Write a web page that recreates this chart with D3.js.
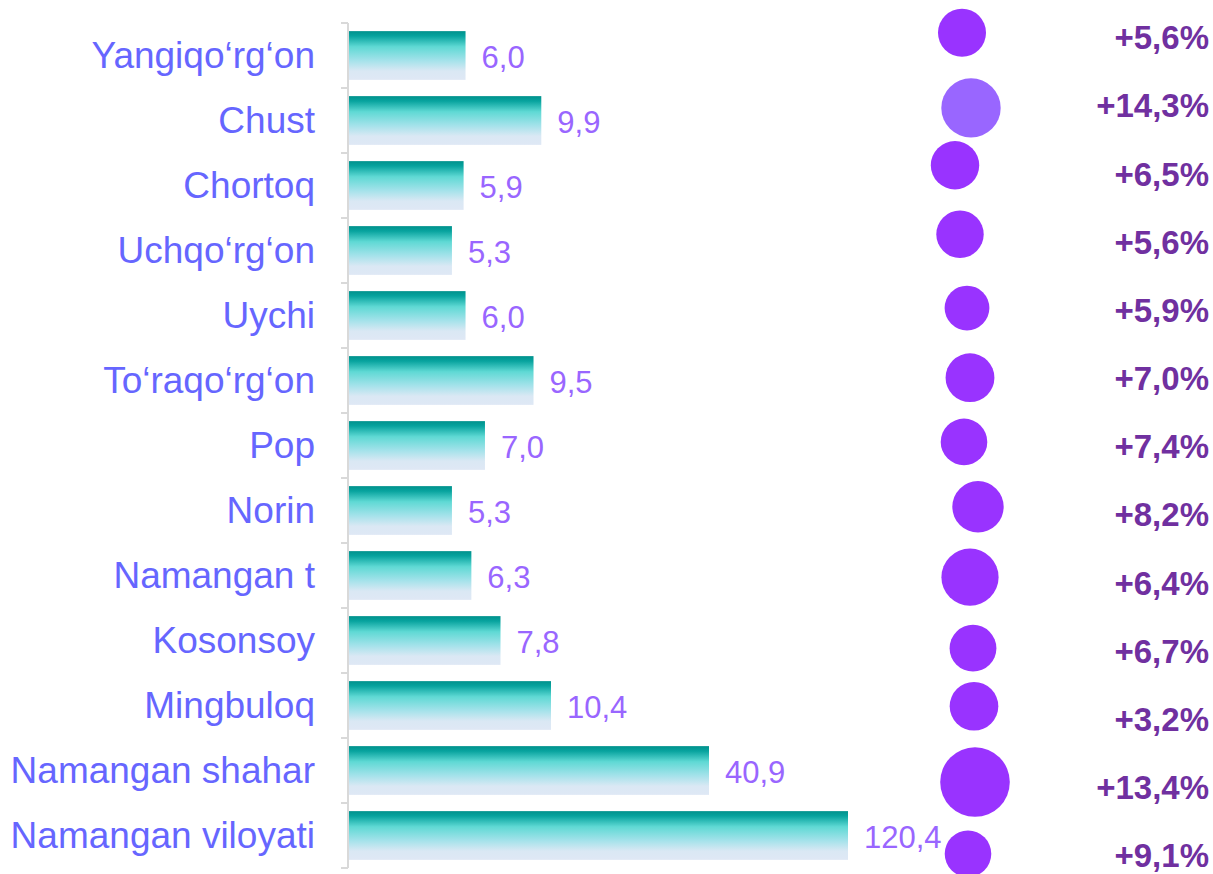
<!DOCTYPE html>
<html>
<head>
<meta charset="utf-8">
<script src="https://cdn.jsdelivr.net/npm/d3@7"></script>
<style>
  html, body { margin: 0; padding: 0; background: #ffffff; overflow: hidden; }
  svg { display: block; }
</style>
</head>
<body>
<svg id="chart" width="1213" height="874"></svg>
<script>
// ---- Data ----
const categories = ["Yangiqo‘rg‘on", "Chust", "Chortoq", "Uchqo‘rg‘on", "Uychi", "To‘raqo‘rg‘on",
  "Pop", "Norin", "Namangan t", "Kosonsoy", "Mingbuloq", "Namangan shahar", "Namangan viloyati"];
const values = [6.0, 9.9, 5.9, 5.3, 6.0, 9.5, 7.0, 5.3, 6.3, 7.8, 10.4, 40.9, 120.4];
const valueLabels = ["6,0", "9,9", "5,9", "5,3", "6,0", "9,5", "7,0", "5,3", "6,3", "7,8", "10,4", "40,9", "120,4"];
const growth = [5.6, 14.3, 6.5, 5.6, 5.9, 7.0, 7.4, 8.2, 6.4, 6.7, 3.2, 13.4, 9.1];
const growthLabels = ["+5,6%", "+14,3%", "+6,5%", "+5,6%", "+5,9%", "+7,0%", "+7,4%", "+8,2%", "+6,4%", "+6,7%", "+3,2%", "+13,4%", "+9,1%"];
// bubble series (x, y, size) as in the source bubble chart
const bubbleX = [4.4, 6.2, 3.0, 4.0, 5.4, 6.0, 4.8, 7.6, 6.0, 6.6, 6.8, 7.0, 5.6];
const bubbleY = [12.55, 11.45, 10.61, 9.60, 8.52, 7.50, 6.56, 5.61, 4.58, 3.54, 2.69, 1.58, 0.53];
const bubbleSize = [47.6, 72.8, 48.4, 46.4, 41.4, 49.2, 44.8, 54.5, 67.5, 45.2, 48.8, 100, 44.8];
const highlighted = ["Chust"];

// ---- Layout ----
const svg = d3.select("#chart");
const axisX = 348;
const plotTop = 23, plotBottom = 868;

const y = d3.scaleBand().domain(categories).range([plotTop, plotBottom]).paddingInner(0.25).paddingOuter(0.125);
// compressed value axis (the reference shortens the two longest bars)
const x = d3.scaleLinear().domain([0, 10.4, 40.9, 120.4]).range([axisX + 1, axisX + 203, axisX + 361, axisX + 500]);

const yPct = d3.scaleBand().domain(categories).range([3.5, 890]);
const bx = d3.scaleLinear().domain([0, 10]).range([940, 990]);
const by = d3.scaleLinear().domain([0, 13]).range([890, 2]);
const br = d3.scaleSqrt().domain([0, 100]).range([0, 34.8]);

// gradient
const defs = svg.append("defs");
const grad = defs.append("linearGradient").attr("id", "barGrad")
  .attr("x1", 0).attr("y1", 0).attr("x2", 0).attr("y2", 1);
[[0, "#00918c"], [0.1, "#07a39e"], [0.32, "#5fd9d4"], [0.6, "#a3e2ea"], [0.82, "#dae8f4"], [1, "#dfe8f5"]]
  .forEach(([o, c]) => grad.append("stop").attr("offset", o).attr("stop-color", c));

// bars
svg.append("g").selectAll("rect").data(categories).join("rect")
  .attr("x", x(0))
  .attr("y", d => y(d))
  .attr("width", (d, i) => x(values[i]) - x(0))
  .attr("height", y.bandwidth())
  .attr("fill", "url(#barGrad)");

// category axis
const boundaries = categories.map(d => y(d) - y.step() * y.paddingInner() / 2);
boundaries.push(plotBottom);
const axisG = svg.append("g");
axisG.append("line").attr("x1", axisX).attr("x2", axisX).attr("y1", plotTop).attr("y2", plotBottom)
  .attr("stroke", "#d9d9d9").attr("stroke-width", 2);
axisG.selectAll("line.tick").data(boundaries).join("line").attr("class", "tick")
  .attr("x1", axisX - 7).attr("x2", axisX).attr("y1", d => d).attr("y2", d => d)
  .attr("stroke", "#d9d9d9").attr("stroke-width", 2);

// category labels
svg.append("g").selectAll("text").data(categories).join("text")
  .attr("x", 315)
  .attr("y", d => y(d) + y.bandwidth() / 2)
  .attr("dy", "0.35em")
  .attr("text-anchor", "end")
  .attr("font-family", "'Liberation Sans', Arial, sans-serif")
  .attr("font-size", 37)
  .attr("fill", "#6666ff")
  .text(d => d);

// value labels
svg.append("g").selectAll("text").data(categories).join("text")
  .attr("x", (d, i) => x(values[i]) + 16)
  .attr("y", d => y(d) + y.bandwidth() / 2)
  .attr("dy", "0.41em")
  .attr("font-family", "'Liberation Sans', Arial, sans-serif")
  .attr("font-size", 31)
  .attr("fill", "#9966ff")
  .text((d, i) => valueLabels[i]);

// bubbles
svg.append("g").selectAll("circle").data(categories).join("circle")
  .attr("cx", (d, i) => bx(bubbleX[i]))
  .attr("cy", (d, i) => by(bubbleY[i]))
  .attr("r", (d, i) => br(bubbleSize[i]))
  .attr("fill", d => highlighted.includes(d) ? "#9966ff" : "#9933ff");

// growth labels
svg.append("g").selectAll("text").data(categories).join("text")
  .attr("x", 1209)
  .attr("y", d => yPct(d) + yPct.bandwidth() / 2)
  .attr("dy", "0.35em")
  .attr("text-anchor", "end")
  .attr("font-family", "'Liberation Sans', Arial, sans-serif")
  .attr("font-weight", "bold")
  .attr("font-size", 33)
  .attr("fill", "#7030a0")
  .text((d, i) => growthLabels[i]);
</script>
</body>
</html>
